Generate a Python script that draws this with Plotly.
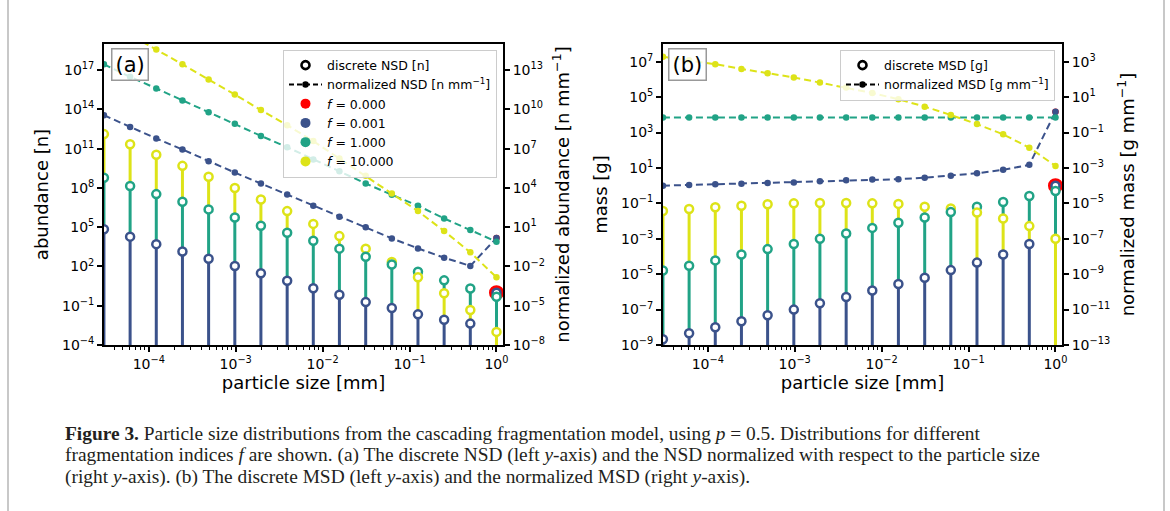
import plotly.graph_objects as go

# ---------------- data ----------------
particle_size = [3.05e-5, 6.10e-5, 1.22e-4, 2.44e-4, 4.88e-4, 9.77e-4, 1.95e-3, 3.91e-3,
                 7.81e-3, 1.56e-2, 3.13e-2, 6.25e-2, 0.125, 0.25, 0.5, 1.0]
f_labels = ["0.000", "0.001", "1.000", "10.000"]
f_colors = ["#ff0000", "#3b528b", "#21a386", "#dde318"]

# (a) discrete NSD [n]
nsd_f0 = [None, None, None, None, None, None, None, None,
          None, None, None, None, None, None, None, 1.0]
nsd_f0001 = [6.9e4, 1.9e4, 5.1e3, 1.4e3, 3.9e2, 1.1e2, 30, 8.1,
             2.2, 0.69, 0.19, 0.068, 0.022, 0.0085, 0.0043, 1.0]
nsd_f1 = [6.0e8, 1.4e8, 3.4e7, 8.9e6, 2.3e6, 5.6e5, 1.3e5, 3.8e4,
          9.3e3, 2.3e3, 5.6e2, 1.4e2, 40, 8.7, 2.1, 0.49]
nsd_f10 = [1.3e12, 2.2e11, 3.4e10, 4.9e9, 7.1e8, 9.8e7, 1.3e7, 1.7e6,
           1.8e5, 2.1e4, 2.3e3, 2.2e2, 15, 0.89, 0.047, 0.001]

# (a) normalized NSD [n mm^-1]
nnsd_f0 = [None, None, None, None, None, None, None, None,
           None, None, None, None, None, None, None, 1.5]
nnsd_f0001 = [3.6e9, 4.5e8, 6.0e7, 8.7e6, 1.1e6, 1.5e5, 2.2e4, 3.2e3,
              4.4e2, 63, 9.8, 1.4, 0.24, 0.047, 0.011, 1.5]
nnsd_f1 = [2.8e13, 3.1e12, 4.0e11, 4.9e10, 6.2e9, 7.9e8, 9.5e7, 1.3e7,
           1.5e6, 1.9e5, 2.2e4, 3.0e3, 4.4e2, 47, 6.0, 0.78]
nnsd_f10 = [6.5e16, 5.0e15, 3.8e14, 2.8e13, 1.9e12, 1.4e11, 8.9e9, 6.3e8,
            3.8e7, 1.8e6, 8.5e4, 3.8e3, 1.7e2, 5.1, 0.12, 1.5e-3]

# (b) discrete MSD [g]
msd_f0 = [None, None, None, None, None, None, None, None,
          None, None, None, None, None, None, None, 1.0]
msd_f0001 = [2.1e-9, 4.6e-9, 1.0e-8, 2.2e-8, 4.8e-8, 1.0e-7, 2.3e-7, 5.1e-7,
             1.2e-6, 2.8e-6, 6.3e-6, 1.7e-5, 4.5e-5, 1.3e-4, 5.1e-4, 1.0]
msd_f1 = [1.6e-5, 3.0e-5, 6.0e-5, 1.3e-4, 2.6e-4, 5.1e-4, 1.0e-3, 2.0e-3,
          4.1e-3, 8.1e-3, 0.016, 0.032, 0.065, 0.12, 0.26, 0.5]
msd_f10 = [0.037, 0.048, 0.060, 0.074, 0.089, 0.10, 0.105, 0.105,
           0.10, 0.093, 0.065, 0.052, 0.030, 0.014, 0.0052, 0.001]

# (b) normalized MSD [g mm^-1]
nmsd_f0 = [None, None, None, None, None, None, None, None,
           None, None, None, None, None, None, None, 1.5]
nmsd_f0001 = [1.0e-4, 1.1e-4, 1.2e-4, 1.3e-4, 1.4e-4, 1.5e-4, 1.8e-4, 2.0e-4,
              2.2e-4, 2.3e-4, 2.8e-4, 3.6e-4, 5.0e-4, 7.8e-4, 1.5e-3, 1.5]
nmsd_f1 = [0.70, 0.70, 0.70, 0.70, 0.70, 0.70, 0.70, 0.70,
           0.70, 0.70, 0.70, 0.70, 0.70, 0.70, 0.70, 0.70]
nmsd_f10 = [1.9e3, 1.2e3, 7.2e2, 3.9e2, 2.2e2, 1.3e2, 66, 35,
            17, 7.6, 2.9, 0.98, 0.30, 0.079, 0.014, 1.3e-3]

x_ticks = [1e-4, 1e-3, 1e-2, 1e-1, 1.0]
x_ticktext = ["10<sup>−4</sup>", "10<sup>−3</sup>", "10<sup>−2</sup>", "10<sup>−1</sup>", "10<sup>0</sup>"]
ya_left_exp = [-4, -1, 2, 5, 8, 11, 14, 17]
ya_right_exp = [-8, -5, -2, 1, 4, 7, 10, 13]
yb_left_exp = [-9, -7, -5, -3, -1, 1, 3, 5, 7]
yb_right_exp = [-13, -11, -9, -7, -5, -3, -1, 1, 3]

# ---------------- styling ----------------
W, H = 1170, 511
FONT = "DejaVu Sans"
TICKFONT = dict(family=FONT, size=14, color="black")
TITLEFONT = dict(family=FONT, size=18, color="black")
DASH = "7px,4px"


def sup(e):
    s = str(e).replace("-", "−")
    return "10<sup>%s</sup>" % s


def px_x(p):
    return p / W


def px_y(p):
    return 1 - p / H


minor_x = [k * 10.0 ** d for d in range(-5, 1) for k in range(2, 10)]

fig = go.Figure()


def add_panel(xa, ya_l, ya_r, discrete, normalized, base):
    # stems: each series drawn from the next lower circle up to its own circle
    for s_idx, vals in enumerate(discrete):
        xs, ys = [], []
        for i, v in enumerate(vals):
            if v is None:
                continue
            lowers = [o[i] for j, o in enumerate(discrete)
                      if j != s_idx and o[i] is not None and o[i] < v]
            lo = max(lowers) if lowers else base
            xs += [particle_size[i], particle_size[i], None]
            ys += [lo, v, None]
        fig.add_trace(go.Scatter(x=xs, y=ys, mode="lines", xaxis=xa, yaxis=ya_l,
                                 line=dict(color=f_colors[s_idx], width=3),
                                 showlegend=False, hoverinfo="skip"))
    # circles: sorted so that lower values are drawn on top
    pts = []
    for s_idx, vals in enumerate(discrete):
        for i, v in enumerate(vals):
            if v is not None:
                pts.append((v, s_idx, particle_size[i]))
    pts.sort(key=lambda t: (-t[0], t[1]))
    fig.add_trace(go.Scatter(
        x=[p[2] for p in pts], y=[p[0] for p in pts], mode="markers",
        xaxis=xa, yaxis=ya_l, cliponaxis=True, showlegend=False,
        marker=dict(symbol="circle", color="white", opacity=1,
                    size=[11.5 if p[1] == 0 else 8 for p in pts],
                    line=dict(color=[f_colors[p[1]] for p in pts],
                              width=[3.5 if p[1] == 0 else 2.5 for p in pts]))))
    # normalized distributions (right axis)
    for s_idx, vals in enumerate(normalized):
        fig.add_trace(go.Scatter(
            x=particle_size, y=vals, xaxis=xa, yaxis=ya_r,
            mode="markers" if s_idx == 0 else "lines+markers",
            line=dict(color=f_colors[s_idx], width=2, dash=DASH),
            marker=dict(color=f_colors[s_idx], size=6.5, opacity=1),
            showlegend=False, connectgaps=False))


add_panel("x", "y", "y2", [nsd_f0, nsd_f0001, nsd_f1, nsd_f10],
          [nnsd_f0, nnsd_f0001, nnsd_f1, nnsd_f10], 1e-30)
add_panel("x2", "y3", "y4", [msd_f0, msd_f0001, msd_f1, msd_f10],
          [nmsd_f0, nmsd_f0001, nmsd_f1, nmsd_f10], 1e-40)

# legend entries
for lg, kind in (("legend", "NSD [n]"), ("legend2", "MSD [g]")):
    unit = kind.split()[1][1:-1]
    fig.add_trace(go.Scatter(x=[None], y=[None], mode="markers", legend=lg,
                             name="discrete " + kind,
                             marker=dict(symbol="circle", color="white", size=8,
                                         line=dict(color="black", width=2.6))))
    fig.add_trace(go.Scatter(x=[None], y=[None], mode="lines+markers", legend=lg,
                             name="normalized %s [%s mm<sup>−1</sup>]" % (kind.split()[0], unit),
                             line=dict(color="black", width=2, dash="5px,3px"),
                             marker=dict(color="black", size=6.5)))
for s_idx, lab in enumerate(f_labels):
    fig.add_trace(go.Scatter(x=[None], y=[None], mode="markers", legend="legend",
                             name="<i>f</i> = " + lab,
                             marker=dict(color=f_colors[s_idx], size=10)))

xa_common = dict(type="log", range=[-4.515, 0.075], tickvals=x_ticks, ticktext=x_ticktext,
                 ticks="outside", ticklen=5, tickwidth=1.5, tickcolor="black",
                 showline=True, linewidth=1.8, linecolor="black", mirror=True,
                 showgrid=False, zeroline=False, tickfont=TICKFONT,
                 title=dict(text="particle size [mm]", font=TITLEFONT, standoff=6),
                 minor=dict(tickmode="array", tickvals=minor_x, ticks="outside",
                            ticklen=3, tickwidth=1, tickcolor="black", showgrid=False),
                 automargin=False)


def yax(rng, exps, title, side, standoff, **kw):
    d = dict(type="log", range=rng, tickvals=[10.0 ** e for e in exps],
             ticktext=[sup(e) for e in exps], ticks="outside", ticklen=5,
             tickwidth=1.5, tickcolor="black", showline=True, linewidth=1.8,
             linecolor="black", showgrid=False, zeroline=False, tickfont=TICKFONT,
             side=side, automargin=False,
             title=dict(text=title, font=TITLEFONT, standoff=standoff))
    d.update(kw)
    return d


LEGFONT = dict(family=FONT, size=12.5, color="black")
dom_y = [px_y(345), px_y(44)]
fig.update_layout(
    width=W, height=H, template="none",
    margin=dict(l=0, r=0, t=0, b=0),
    paper_bgcolor="white", plot_bgcolor="rgba(0,0,0,0)",
    font=dict(family=FONT, color="black"),
    xaxis=dict(xa_common, domain=[px_x(104), px_x(503)], anchor="y"),
    xaxis2=dict(xa_common, domain=[px_x(663), px_x(1062)], anchor="y3"),
    yaxis=yax([-4, 19], ya_left_exp, "abundance [n]", "left", 9,
              domain=dom_y, anchor="x"),
    yaxis2=yax([-8, 15], ya_right_exp, "normalized abundance [n mm<sup>−1</sup>]", "right", 12,
               overlaying="y", anchor="x"),
    yaxis3=yax([-9, 8], yb_left_exp, "mass [g]", "left", 9,
               domain=dom_y, anchor="x2"),
    yaxis4=yax([-13, 4], yb_right_exp, "normalized mass [g mm<sup>−1</sup>]", "right", 12,
               overlaying="y3", anchor="x2"),
    legend=dict(x=px_x(497), y=px_y(49.5), xanchor="right", yanchor="top",
                bgcolor="rgba(255,255,255,0.8)", bordercolor="#cccccc", borderwidth=1,
                font=LEGFONT, tracegroupgap=0, itemwidth=33),
    legend2=dict(x=px_x(1055), y=px_y(49.5), xanchor="right", yanchor="top",
                 bgcolor="rgba(255,255,255,0.8)", bordercolor="#cccccc", borderwidth=1,
                 font=LEGFONT, tracegroupgap=0, itemwidth=33),
    showlegend=True,
)

# panel labels
for lab, cx in (("(a)", 129.5), ("(b)", 687.5)):
    fig.add_annotation(x=px_x(cx), y=px_y(64), xref="paper", yref="paper",
                       text=lab, showarrow=False, xanchor="center", yanchor="middle",
                       font=dict(family=FONT, size=21, color="black"),
                       bgcolor="rgba(255,255,255,0.8)", bordercolor="#999999",
                       borderwidth=1.5, borderpad=3)

# caption
caption_lines = [
    "<b>Figure 3.</b> Particle size distributions from the cascading fragmentation model, using <i>p</i> = 0.5. Distributions for different",
    "fragmentation indices <i>f</i> are shown. (a) The discrete NSD (left <i>y</i>-axis) and the NSD normalized with respect to the particle size",
    "(right <i>y</i>-axis). (b) The discrete MSD (left <i>y</i>-axis) and the normalized MSD (right <i>y</i>-axis).",
]
for k, line in enumerate(caption_lines):
    fig.add_annotation(x=px_x(63), y=px_y(433 + 22 * k), xref="paper", yref="paper",
                       text=line, showarrow=False, xanchor="left", yanchor="middle",
                       font=dict(family="Liberation Serif", size=19.4, color="#231f20"))

# page frame
for fx in (8, 1164):
    fig.add_shape(type="line", xref="paper", yref="paper", x0=px_x(fx), x1=px_x(fx),
                  y0=0, y1=1, line=dict(color="#c8c8c8", width=2))

fig.write_html("out.html", config={"displayModeBar": False},
               post_script="document.body.style.margin='0px';document.body.style.overflow='hidden';")
